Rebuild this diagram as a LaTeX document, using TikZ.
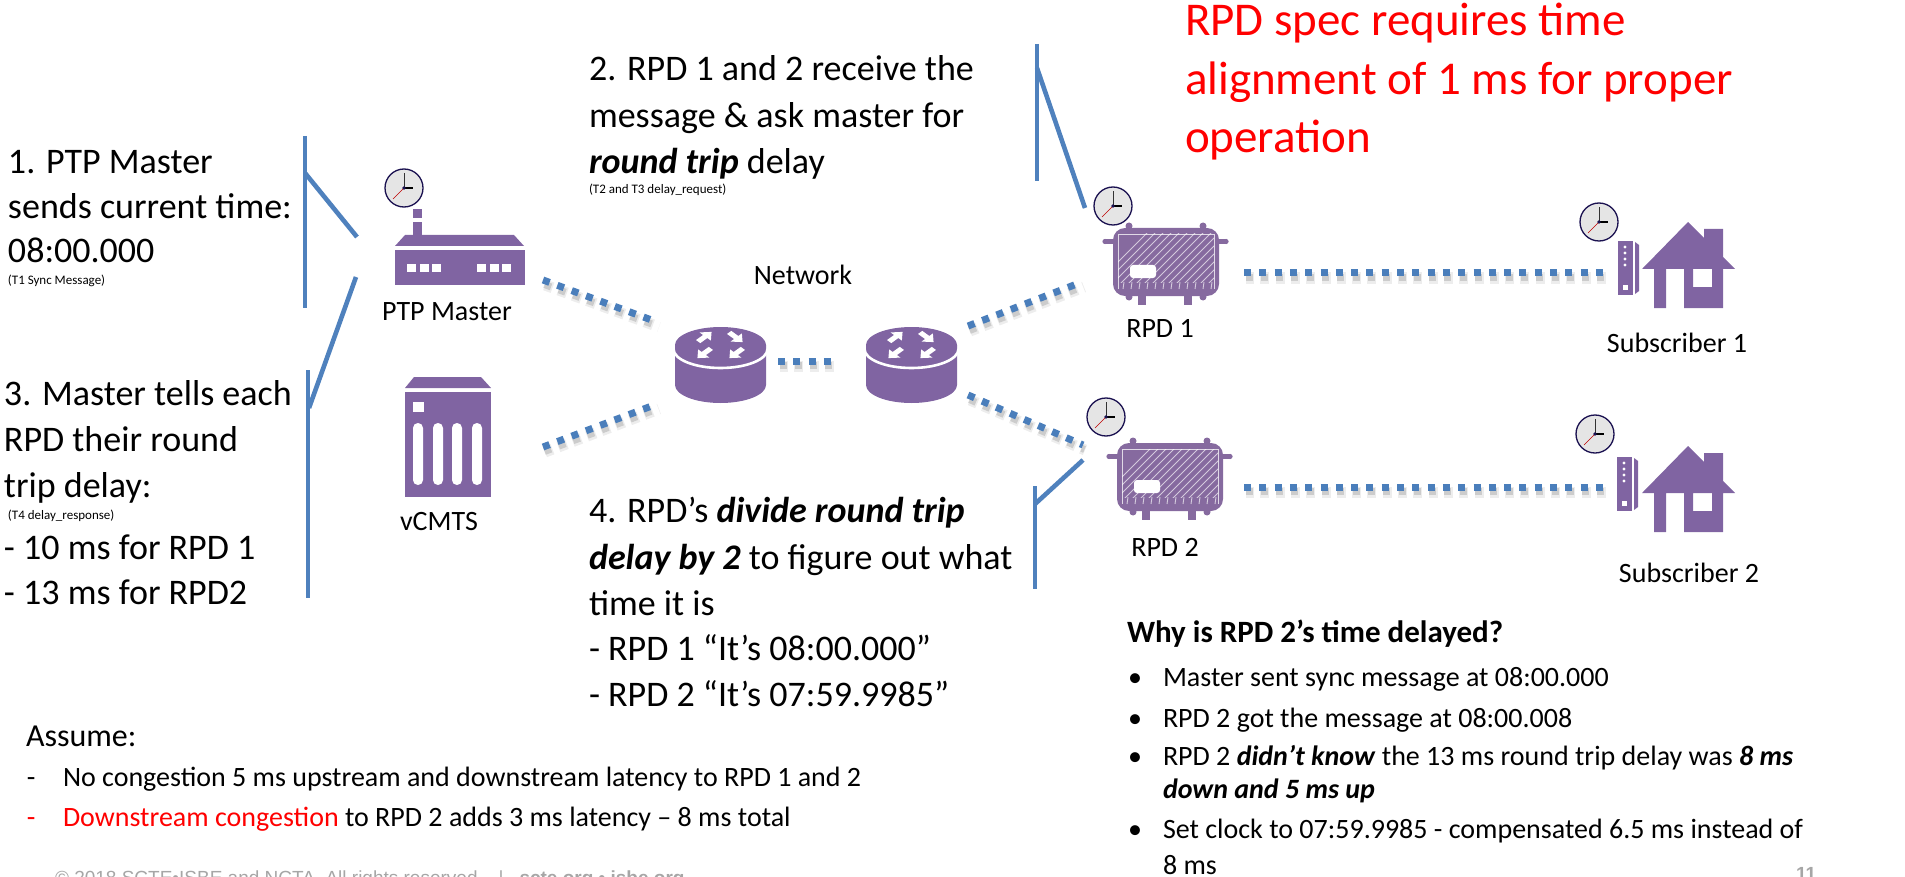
\documentclass[tikz,border=0pt]{standalone}
\usepackage{fontspec}
\setmainfont{Carlito}
\newfontfamily\footfont{Liberation Sans}
\usetikzlibrary{calc}
\definecolor{iconP}{HTML}{8064A2}
\definecolor{rpdP}{HTML}{866A9F}
\definecolor{lineB}{HTML}{4F81BD}
\definecolor{dotB}{HTML}{4A7EBB}
\definecolor{footG}{HTML}{A6A6A6}
\definecolor{clockN}{HTML}{1A1150}
\tikzset{
  txt/.style={anchor=base west,inner sep=0pt,outer sep=0pt,text=black},
  ctr/.style={anchor=base,inner sep=0pt,outer sep=0pt,text=black},
  callout/.style={draw=lineB,line width=4.6pt,line cap=butt},
  dotlink/.style={draw=dotB,line width=7pt,dash pattern=on 7pt off 8.3pt},
  dotshadeA/.style={draw=black,opacity=.07,line width=11pt,dash pattern=on 9pt off 6.3pt,dash phase=1pt},
  dotshadeB/.style={draw=black,opacity=.14,line width=7pt,dash pattern=on 7pt off 8.3pt},
  icon/.style={fill=iconP,draw=none},
  hole/.style={fill=white,draw=none}
}
\newcommand{\tl}[5]{\node[txt,font=\fontsize{#4}{#4}\selectfont] (#1) at (#2,#3) {#5};}
\newcommand{\tc}[5]{\node[ctr,font=\fontsize{#4}{#4}\selectfont] (#1) at (#2,#3) {#5};}
\newcommand{\dotconn}[2]{%
  \draw[dotshadeA] ($(#1)+(2,5)$) -- ($(#2)+(2,5)$);
  \draw[dotshadeB] ($(#1)+(1.5,4.5)$) -- ($(#2)+(1.5,4.5)$);
  \draw[dotlink] (#1) -- (#2);}
\newcommand{\clock}[3]{%
  \node[circle,minimum size=38pt,inner sep=0pt,fill=black!10,draw=clockN,line width=1.3pt] (#1) at (#2,#3) {};
  \draw[black!80,line width=1pt] (#1.center) -- ++(0,-15);
  \draw[black,line width=1.3pt] (#1.center) -- ++(9,0);
  \draw[red!75!black,line width=.6pt] (#1.center) -- ++(-11,11);
  \fill[clockN] (#1.center) circle (1.8);}
\newcommand{\rarrow}[3]{%
  \begin{scope}[shift={(#1,#2)},yscale=.72,rotate=#3]
    \fill[white] (-9,-3) -- (1,-3) -- (1,-8) -- (10,0) -- (1,8) -- (1,3) -- (-9,3) -- cycle;
  \end{scope}}
\newcommand{\router}[2]{%
  \begin{scope}[shift={(#2,0)}]
    \coordinate (#1) at (0,365);
    \fill[iconP] (-45.5,345) -- (-45.5,385) arc[start angle=180,end angle=0,x radius=45.5,y radius=18] -- (45.5,345) -- cycle;
    \draw[white,line width=2.6pt] (-47,349) arc[start angle=180,end angle=0,x radius=47,y radius=19];
    \fill[iconP] (0,345) ellipse [x radius=45.5,y radius=18];
    \rarrow{-16}{337}{45}
    \rarrow{15}{337}{-45}
    \rarrow{-16}{353}{225}
    \rarrow{16}{353}{225}
  \end{scope}}
\newcommand{\rpd}[3]{%
  \begin{scope}[shift={(#2,#3)}]
    \coordinate (#1) at (1166,262);
    \fill[rpdP] (1105,239) rectangle (1113,244);
    \fill[rpdP] (1219,239) rectangle (1226,244);
    \fill[rpdP] (1105,241.5) circle (2.6) (1226,241.5) circle (2.6);
    \fill[rpdP] (1129,226) circle (3.5) (1203,226) circle (3.5);
    \fill[rpdP] (1129,297) circle (3.5) (1203,297) circle (3.5);
    \fill[rpdP] (1138,294) rectangle (1146,305);
    \fill[rpdP] (1184,294) rectangle (1192,305);
    \fill[rpdP,rounded corners=12pt] (1113,228) rectangle (1219,296);
    \begin{scope}
      \clip (1118,234) rectangle (1214,282);
      \foreach \h in {0,8,...,160} {
        \draw[white,opacity=.65,line width=.9pt] (1090+\h,290) -- (1150+\h,230);
      }
    \end{scope}
    \draw[white,opacity=.75,line width=.9pt] (1118,289) -- (1118,234) -- (1214,234) -- (1214,289);
    \foreach \h in {1124,1132,...,1212} {
      \draw[white,opacity=.65,line width=.9pt] (\h,282) -- (\h-1,289);
    }
    \fill[white,rounded corners=3pt] (1130,265) rectangle (1156,278);
  \end{scope}}
\newcommand{\modem}[2]{%
  \begin{scope}[shift={(#1,#2)}]
    \fill[iconP] (1618,241) rectangle (1633,295);
    \fill[iconP] (1635,242) -- (1639,245) -- (1639,291) -- (1635,294) -- cycle;
    \fill[white] (1625,247) circle (1.7) (1625,253) circle (1.7) (1625,259) circle (1.7) (1625,265) circle (1.7);
    \fill[white] (1623,285) rectangle (1628,290);
  \end{scope}}
\newcommand{\house}[2]{%
  \begin{scope}[shift={(#1,#2)}]
    \fill[iconP,even odd rule] (1688,222) -- (1704,238) -- (1704,229) -- (1723,229) -- (1723,257) -- (1735,269) -- (1723,269) -- (1723,308) -- (1684,308) -- (1684,269) -- (1666,269) -- (1666,308) -- (1654,308) -- (1654,269) -- (1642,269) -- cycle
      (1693,269) rectangle (1712,287);
  \end{scope}}
\begin{document}
\begin{tikzpicture}[x=1pt,y=-1pt]
\useasboundingbox (0,0) rectangle (1905,877);
\clip (0,0) rectangle (1905,877);

% callout coordinates
\coordinate (c1t) at (305,136); \coordinate (c1b) at (305,308);
\coordinate (c1j) at (305,173); \coordinate (c1e) at (357,237);
\coordinate (c3t) at (308,370); \coordinate (c3b) at (308,598);
\coordinate (c3j) at (309,408); \coordinate (c3e) at (356,277);
\coordinate (c2t) at (1037,44); \coordinate (c2b) at (1037,181);
\coordinate (c2j) at (1037,68); \coordinate (c2e) at (1085,208);
\coordinate (c4t) at (1035,486); \coordinate (c4b) at (1035,589);
\coordinate (c4j) at (1035,504); \coordinate (c4e) at (1083,460);
\draw[callout] (c1t) -- (c1b);
\draw[callout] (c1j) -- (c1e);
\draw[callout] (c3t) -- (c3b);
\draw[callout] (c3j) -- (c3e);
\draw[callout] (c2t) -- (c2b);
\draw[callout] (c2j) -- (c2e);
\draw[callout] (c4t) -- (c4b);
\draw[callout] (c4j) -- (c4e);

% dotted link ends
\coordinate (a1) at (543,280); \coordinate (a2) at (657,322);
\coordinate (b1) at (543,447); \coordinate (b2) at (657,404);
\coordinate (l1) at (778,361); \coordinate (l2) at (833,361);
\coordinate (d1) at (968,326); \coordinate (d2) at (1082,282);
\coordinate (e1) at (968,395); \coordinate (e2) at (1083,445);
\coordinate (f1) at (1244,273); \coordinate (f2) at (1604,273);
\coordinate (g1) at (1244,487); \coordinate (g2) at (1604,487);
\dotconn{a1}{a2}
\dotconn{b1}{b2}
\dotconn{l1}{l2}
\dotconn{d1}{d2}
\dotconn{e1}{e2}
\dotconn{f1}{f2}
\dotconn{g1}{g2}

% PTP master icon
\fill[icon] (395,246) -- (405,235) -- (514,235) -- (524,246) -- cycle;
\fill[icon] (395,250) rectangle (525,285);
\fill[icon] (413,222) rectangle (422,235);
\fill[icon] (413,209) rectangle (422,218);
\foreach \wx in {407,420,432,477,490,502} {\fill[hole] (\wx,264) rectangle ++(8.6,8.4);}

% vCMTS icon
\fill[icon] (405,388) -- (414,377) -- (481,377) -- (491,388) -- cycle;
\fill[icon] (405,392) rectangle (491,497);
\fill[hole] (413,402) rectangle (424,412);
\foreach \wx in {413,433,452,472} {\fill[hole,rounded corners=4.9pt] (\wx,423) rectangle ++(10,62);}

\router{r1}{720.5}
\router{r2}{911.5}
\rpd{rpd1}{0}{0}
\rpd{rpd2}{4}{215}
\modem{0}{0}
\house{0}{0}
\modem{-1}{216}
\house{0}{224}

\clock{ck0}{404}{188}
\clock{ck1}{1113}{206}
\clock{ck2}{1106}{417}
\clock{ck3}{1599}{222}
\clock{ck4}{1595}{434}

% Block 1
\tl{t1a}{8}{174}{36}{1. PTP Master}
\tl{t1b}{8}{219}{36}{sends current time:}
\tl{t1c}{8}{262}{36}{08:00.000}
\tl{t1d}{8}{284}{13}{(T1 Sync Message)}
% Block 3
\tl{t3a}{4}{405}{36}{3. Master tells each}
\tl{t3b}{4}{451}{36}{RPD their round}
\tl{t3c}{4}{497}{36}{trip delay:}
\tl{t3d}{8}{519}{13}{(T4 delay\_response)}
\tl{t3e}{4}{559}{36}{- 10 ms for RPD 1}
\tl{t3f}{4}{604}{36}{- 13 ms for RPD2}
% Block 2
\tl{t2a}{589}{81}{36}{2. RPD 1 and 2 receive the}
\tl{t2b}{589}{128}{36}{message \& ask master for}
\tl{t2c}{589}{174}{36}{\textbf{\textit{round trip}} delay}
\tl{t2d}{589}{194}{13}{(T2 and T3 delay\_request)}
% Block 4
\tl{t4a}{589}{522}{36}{4. RPD’s \textbf{\textit{divide round trip}}}
\tl{t4b}{589}{569}{36}{\textbf{\textit{delay by 2}} to figure out what}
\tl{t4c}{589}{615}{36}{time it is}
\tl{t4d}{589}{660}{36}{- RPD 1 “It’s 08:00.000”}
\tl{t4e}{589}{706}{36}{- RPD 2 “It’s 07:59.9985”}
% labels
\tc{nNet}{803}{284}{28}{Network}
\tc{nPtp}{447}{320}{28}{PTP Master}
\tc{nCm}{439}{530}{28}{vCMTS}
\tc{nR1}{1160}{337}{28}{RPD 1}
\tc{nR2}{1165}{556}{28}{RPD 2}
\tc{nS1}{1677}{352}{28}{Subscriber 1}
\tc{nS2}{1689}{582}{28}{Subscriber 2}
% Red
\node[txt,text=red,font=\fontsize{47}{47}\selectfont] (rs1) at (1185,36) {RPD spec requires time};
\node[txt,text=red,font=\fontsize{47}{47}\selectfont] (rs2) at (1185,95) {alignment of 1 ms for proper};
\node[txt,text=red,font=\fontsize{47}{47}\selectfont] (rs3) at (1185,153) {operation};
% Assume
\tl{as0}{26}{746}{32}{Assume:}
\tl{as1d}{27}{786}{28}{-}
\tl{as1}{63}{786}{28}{No congestion 5 ms upstream and downstream latency to RPD 1 and 2}
\node[txt,text=red,font=\fontsize{28}{28}\selectfont] (as2d) at (27,826) {-};
\tl{as2}{63}{826}{28}{\textcolor{red}{Downstream congestion} to RPD 2 adds 3 ms latency – 8 ms total}
% Why
\tl{w0}{1127}{642}{31}{\textbf{Why is RPD 2’s time delayed?}}
\tl{w1d}{1128}{686}{28}{•}
\tl{w1}{1163}{686}{28}{Master sent sync message at 08:00.000}
\tl{w2d}{1128}{727}{28}{•}
\tl{w2}{1163}{727}{28}{RPD 2 got the message at 08:00.008}
\tl{w3d}{1128}{765}{28}{•}
\tl{w3}{1163}{765}{28}{RPD 2 \textbf{\textit{didn’t know}} the 13 ms round trip delay was \textbf{\textit{8 ms}}}
\tl{w3b}{1163}{798}{28}{\textbf{\textit{down and 5 ms up}}}
\tl{w4d}{1128}{838}{28}{•}
\tl{w4}{1163}{838}{28}{Set clock to 07:59.9985 - compensated 6.5 ms instead of}
\tl{w4b}{1163}{874}{28}{8 ms}
% footer
\node[txt,text=footG,font=\footfont\fontsize{19}{19}\selectfont] (ft) at (55,884) {© 2018 SCTE•ISBE and NCTA. All rights reserved.\ \ \ |\ \ \ \textbf{scte.org • isbe.org}};
\node[txt,text=footG,font=\footfont\bfseries\fontsize{19}{19}\selectfont] (pg) at (1796,880) {11};
\end{tikzpicture}
\end{document}
